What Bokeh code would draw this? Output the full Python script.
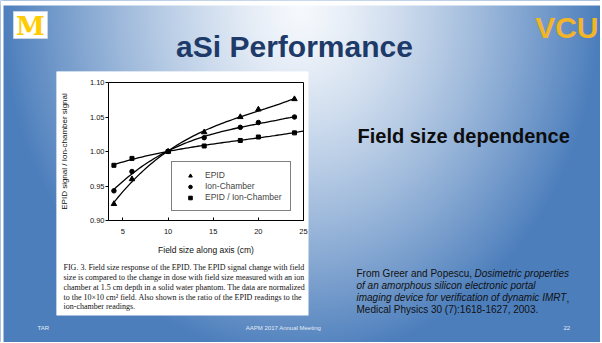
import numpy as np
from bokeh.plotting import figure
from bokeh.models import (Range1d, Label, FixedTicker, PrintfTickFormatter, Legend,
                          LegendItem, Title, GridBox, Column)
from bokeh.embed import file_html
from bokeh.resources import INLINE

# ---------------- data ----------------
field_size = [4, 6, 10, 14, 18, 20, 24]
epid = [0.924, 0.960, 1.000, 1.028, 1.050, 1.061, 1.076]
ion_chamber = [0.943, 0.971, 1.000, 1.020, 1.035, 1.042, 1.050]
ratio = [0.980, 0.990, 1.000, 1.008, 1.016, 1.021, 1.027]
x_ticks = [5, 10, 15, 20, 25]
y_ticks = [0.90, 0.95, 1.00, 1.05, 1.10]
series_names = ["EPID", "Ion-Chamber", "EPID / Ion-Chamber"]

caption_lines = [
    "FIG. 3. Field size response of the EPID. The EPID signal change with field",
    "size is compared to the change in dose with field size measured with an ion",
    "chamber at 1.5 cm depth in a solid water phantom. The data are normalized",
    "to the 10\u00d710 cm\u00b2 field. Also shown is the ratio of the EPID readings to the",
    "ion-chamber readings.",
]

# ---------------- slide background figure ----------------
W, H = 600, 342


def X(px):
    return px


def Y(py):
    return H - py


bg = figure(width=W, height=H, x_range=Range1d(0, W), y_range=Range1d(0, H),
            x_axis_type=None, y_axis_type=None, output_backend="svg",
            toolbar_location=None, min_border=0)
bg.grid.visible = False
bg.outline_line_color = None
bg.background_fill_color = "#4c7ebc"
bg.border_fill_color = "#4c7ebc"

ys, xs = np.mgrid[0:H, 0:W]
xp = xs + 0.5
yp = H - (ys + 0.5)
t = np.sqrt(((xp - 300) / 300.0) ** 2 + ((yp - 10) / 350.0) ** 2)
t = np.clip(t, 0, 1) ** 1.3
light = np.array([246, 249, 253], dtype=float)
blue = np.array([76, 126, 188], dtype=float)
rgb = light + (blue - light) * t[..., None]
img = np.zeros((H, W), dtype=np.uint32)
view = img.view(dtype=np.uint8).reshape((H, W, 4))
view[..., 0:3] = rgb.astype(np.uint8)
view[..., 3] = 255
bg.image_rgba(image=[img], x=0, y=0, dw=W, dh=H)

# white page edges around the slide
bg.quad(left=0, right=W, top=Y(0), bottom=Y(5), fill_color="white", line_color=None)
bg.quad(left=0, right=3, top=Y(0), bottom=0, fill_color="white", line_color=None)

# white panel behind the scanned figure
bg.quad(left=X(56), right=X(308), top=Y(71), bottom=Y(315),
        fill_color="white", line_color=None)

# Michigan logo
bg.quad(left=X(13), right=X(47), top=Y(11), bottom=Y(38),
        fill_color="white", line_color="#c8d5e8", line_width=1)
bg.add_layout(Label(x=X(30), y=Y(25), text="M", text_align="center",
                    text_baseline="middle", text_font="DejaVu Serif",
                    text_font_style="bold", text_font_size="26px",
                    text_color="#FFCB05"))
# VCU logo
bg.add_layout(Label(x=X(598), y=Y(27), text="VCU", text_align="right",
                    text_baseline="middle",
                    text_font="Liberation Sans Narrow, Liberation Sans",
                    text_font_style="bold", text_font_size="30px",
                    text_color="#F2B428"))
# slide title
bg.add_layout(Label(x=X(294), y=Y(46), text="aSi Performance", text_align="center",
                    text_baseline="middle", text_font="Liberation Sans",
                    text_font_style="bold", text_font_size="30px",
                    text_color="#1e3a68"))
# right side heading
bg.add_layout(Label(x=X(357), y=Y(135), text="Field size dependence", text_align="left",
                    text_baseline="middle", text_font="Liberation Sans",
                    text_font_style="bold", text_font_size="20px",
                    text_color="#0d0d0d"))
# citation
cit = dict(text_baseline="middle", text_font="Liberation Sans", text_font_size="10px",
           text_color="#111111")
bg.add_layout(Label(x=X(356), y=Y(273), text="From Greer and Popescu, ", **cit))
bg.add_layout(Label(x=X(474), y=Y(273), text="Dosimetric properties",
                    text_font_style="italic", **cit))
bg.add_layout(Label(x=X(356), y=Y(285), text="of an amorphous silicon electronic portal",
                    text_font_style="italic", **cit))
bg.add_layout(Label(x=X(356), y=Y(297),
                    text="imaging device for verification of dynamic IMRT",
                    text_font_style="italic", **cit))
bg.add_layout(Label(x=X(566), y=Y(297), text=",", **cit))
bg.add_layout(Label(x=X(356), y=Y(309), text="Medical Physics 30 (7):1618-1627, 2003.",
                    **cit))
# footer
foot = dict(y=Y(327), text_baseline="middle", text_font="Liberation Sans",
            text_font_size="6px", text_color="#e4ebf5")
bg.add_layout(Label(x=X(37), text="TAR", **foot))
bg.add_layout(Label(x=X(283), text="AAPM 2017 Annual Meeting", text_align="center", **foot))
bg.add_layout(Label(x=X(563), text="22", **foot))

# ---------------- chart figure ----------------
ch = figure(width=252, height=244, x_range=Range1d(3.4, 25), y_range=Range1d(0.90, 1.10),
            output_backend="svg", toolbar_location=None,
            min_border_left=46, min_border_right=5, min_border_top=11,
            min_border_bottom=95)
ch.grid.visible = False
ch.background_fill_color = "white"
ch.border_fill_color = "white"
ch.outline_line_color = "black"
ch.outline_line_width = 1

ch.xaxis.ticker = FixedTicker(ticks=x_ticks)
ch.yaxis.ticker = FixedTicker(ticks=y_ticks)
ch.yaxis.formatter = PrintfTickFormatter(format="%.2f")
for ax in (ch.xaxis[0], ch.yaxis[0]):
    ax.axis_line_color = "black"
    ax.major_tick_line_color = "black"
    ax.minor_tick_line_color = None
    ax.major_label_text_font = "Liberation Sans"
    ax.major_label_text_font_size = "7.5px"
    ax.major_label_text_color = "#111111"
    ax.axis_label_text_font = "Liberation Sans"
    ax.axis_label_text_font_style = "normal"
    ax.axis_label_text_color = "#111111"
ch.xaxis.major_tick_in = 3
ch.xaxis.major_tick_out = 0
ch.xaxis.major_label_standoff = 8
ch.xaxis.axis_label = "Field size along axis (cm)"
ch.xaxis.axis_label_text_font_size = "8.5px"
ch.xaxis.axis_label_standoff = 8
ch.yaxis.major_tick_in = 0
ch.yaxis.major_tick_out = 3
ch.yaxis.major_label_standoff = 1
ch.yaxis.axis_label = "EPID signal / Ion-chamber signal"
ch.yaxis.axis_label_text_font_size = "8px"
ch.yaxis.axis_label_standoff = 18


def fit(xv, yv, x0, x1):
    c = np.polyfit(xv, yv, 3)
    xx = np.linspace(x0, x1, 80)
    return xx, np.polyval(c, xx)


for yv, x1 in ((epid, 24), (ion_chamber, 24), (ratio, 25)):
    xx, yy = fit(field_size, yv, 4, x1)
    ch.line(xx, yy, line_color="black", line_width=1.3)

r_e = ch.scatter(field_size, epid, marker="triangle", size=5.5, fill_color="black",
                 line_color="black")
r_i = ch.scatter(field_size, ion_chamber, marker="circle", size=4.5, fill_color="black",
                 line_color="black")
r_r = ch.scatter(field_size, ratio, marker="square", size=4, fill_color="black",
                 line_color="black")

legend = Legend(items=[LegendItem(label=series_names[0], renderers=[r_e]),
                       LegendItem(label=series_names[1], renderers=[r_i]),
                       LegendItem(label=series_names[2], renderers=[r_r])],
                location=(63, 9), border_line_color="black", border_line_width=1,
                background_fill_color="white", background_fill_alpha=1,
                padding=8, spacing=1, label_height=9, glyph_height=9, glyph_width=20,
                label_standoff=5, label_text_font="Liberation Sans",
                label_text_font_size="8.5px", margin=0)
ch.add_layout(legend)

ch.add_layout(Title(text="\n".join(caption_lines), align="left", offset=-45, standoff=6,
                    text_font="Liberation Serif", text_font_size="8px",
                    text_line_height=1.11, text_font_style="normal",
                    text_color="#111111"), "below")

bg_box = Column(children=[bg], width=W, height=H)
ch_box = Column(children=[ch], width=252, height=244, margin=(71, 0, 0, 56))
layout = GridBox(children=[(bg_box, 0, 0), (ch_box, 0, 0)])

open("out.html", "w").write(file_html(layout, INLINE))
